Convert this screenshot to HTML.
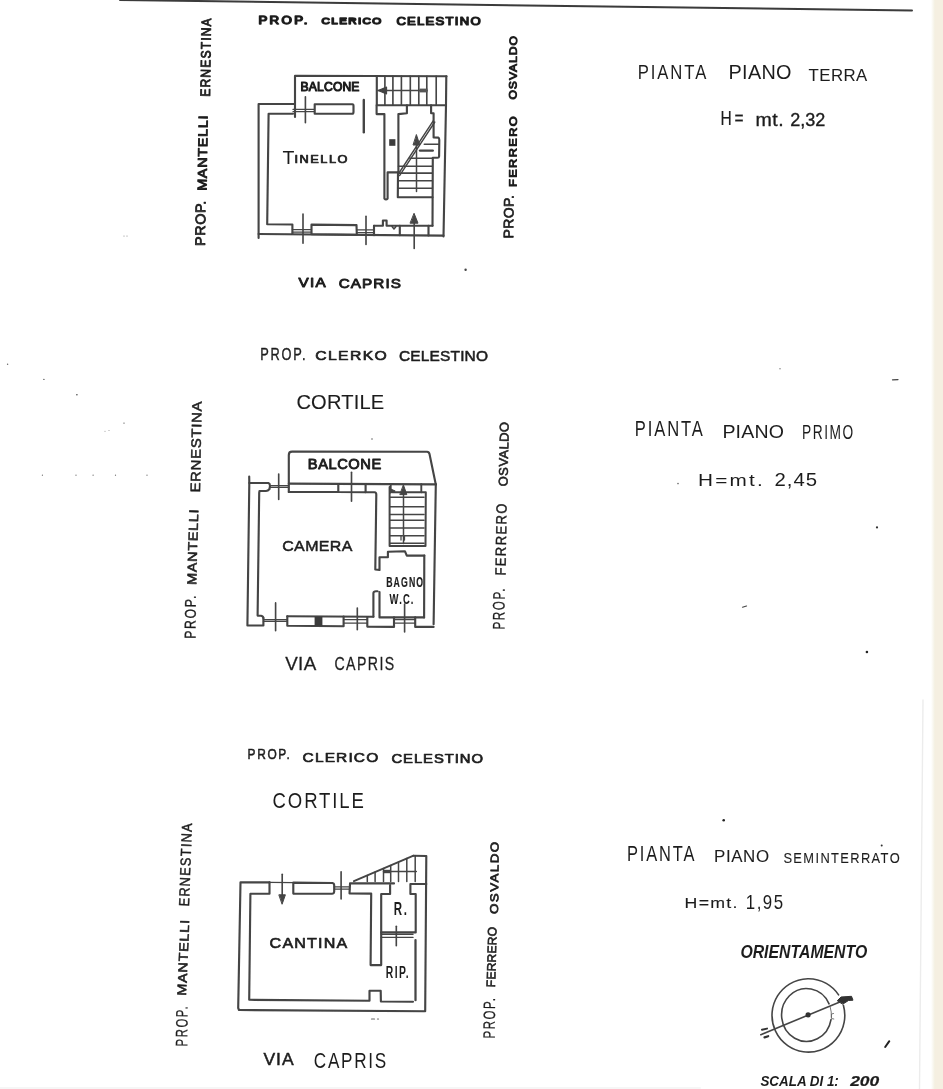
<!DOCTYPE html>
<html><head><meta charset="utf-8"><style>
html,body{margin:0;padding:0;background:#fff;}
body{width:943px;height:1089px;overflow:hidden;position:relative;font-family:"Liberation Sans",sans-serif;}
svg{position:absolute;left:0;top:0;}
.tx{filter:grayscale(1);}
</style></head><body>
<svg width="943" height="1089" viewBox="0 0 943 1089">
<defs><filter id="soft" x="-2%" y="-2%" width="104%" height="104%"><feGaussianBlur stdDeviation="0.45"/></filter><linearGradient id="edge" x1="0" x2="1" y1="0" y2="0"><stop offset="0" stop-color="#ffffff"/><stop offset="1" stop-color="#f3efe0"/></linearGradient></defs>
<rect x="0" y="0" width="943" height="1089" fill="#ffffff"/>
<rect x="931" y="0" width="4" height="1089" fill="url(#edge)"/>
<rect x="935" y="0" width="8" height="1089" fill="#f5efe1"/>
<g filter="url(#soft)">
<path d="M 120 0 L 912 10.5" stroke="#3a3a3a" stroke-width="2.0" fill="none" stroke-linecap="round" stroke-linejoin="round"/>
<path d="M 258.6 238 L 258.6 104 L 295 104" stroke="#444444" stroke-width="2.125" fill="none" stroke-linecap="round" stroke-linejoin="round"/>
<path d="M 295 117 L 295 75.8 L 446.5 76.2" stroke="#444444" stroke-width="2.125" fill="none" stroke-linecap="round" stroke-linejoin="round"/>
<path d="M 446.3 76.2 L 446 105 L 443.5 236.5" stroke="#444444" stroke-width="2.125" fill="none" stroke-linecap="round" stroke-linejoin="round"/>
<path d="M 258.6 234 L 443.5 235.6" stroke="#444444" stroke-width="2.125" fill="none" stroke-linecap="round" stroke-linejoin="round"/>
<path d="M 293 113.8 L 268.6 113.8 L 267.2 224.3 L 292.4 224.5 L 292.4 234" stroke="#444444" stroke-width="2.125" fill="none" stroke-linecap="round" stroke-linejoin="round"/>
<path d="M 293 109.4 L 314 109.4 M 293 111.7 L 314 111.7" stroke="#444444" stroke-width="1.25" fill="none" stroke-linecap="round" stroke-linejoin="round"/>
<path d="M 305.4 96.8 L 305.4 122.8" stroke="#444444" stroke-width="1.625" fill="none" stroke-linecap="round" stroke-linejoin="round"/>
<path d="M 314.7 104.3 L 352.5 104.3 Q 353.5 104.3 353.5 106 L 353.5 112 Q 353.5 113.8 352 113.8 L 314.7 113.8 Z" stroke="#444444" stroke-width="2.125" fill="none" stroke-linecap="round" stroke-linejoin="round"/>
<path d="M 363.8 100 L 363.8 132.3" stroke="#444444" stroke-width="2.375" fill="none" stroke-linecap="round" stroke-linejoin="round"/>
<path d="M 376.8 76 L 376.8 105.2 L 446 105.2" stroke="#444444" stroke-width="2.125" fill="none" stroke-linecap="round" stroke-linejoin="round"/>
<path d="M 384.9 76.2 L 384.9 105" stroke="#444444" stroke-width="1.625" fill="none" stroke-linecap="round" stroke-linejoin="round"/>
<path d="M 392.9 76.2 L 392.9 105" stroke="#444444" stroke-width="1.625" fill="none" stroke-linecap="round" stroke-linejoin="round"/>
<path d="M 401.4 76.2 L 401.4 105" stroke="#444444" stroke-width="1.625" fill="none" stroke-linecap="round" stroke-linejoin="round"/>
<path d="M 410.3 76.2 L 410.3 105" stroke="#444444" stroke-width="1.625" fill="none" stroke-linecap="round" stroke-linejoin="round"/>
<path d="M 418.8 76.2 L 418.8 105" stroke="#444444" stroke-width="1.625" fill="none" stroke-linecap="round" stroke-linejoin="round"/>
<path d="M 426.8 76.2 L 426.8 105" stroke="#444444" stroke-width="1.625" fill="none" stroke-linecap="round" stroke-linejoin="round"/>
<path d="M 436.2 76.2 L 436.2 105" stroke="#444444" stroke-width="1.625" fill="none" stroke-linecap="round" stroke-linejoin="round"/>
<path d="M 378 90.5 L 427 90.5" stroke="#444444" stroke-width="1.625" fill="none" stroke-linecap="round" stroke-linejoin="round"/>
<path d="M 378.2 90.5 L 386.5 87.2 L 386.5 93.8 Z" stroke="#444444" stroke-width="1.25" fill="#444444" stroke-linecap="round" stroke-linejoin="round"/>
<rect x="419.5" y="88.6" width="8" height="3.8" fill="#555"/>
<path d="M 376.6 105.2 L 376.6 114.1 L 384.4 114.1 L 384.4 198.5 Q 386 200.5 387.6 198.5 L 387.6 172.4 L 398.4 172.4 L 398.4 114.1 L 406.9 113.2 L 406.9 105.2" stroke="#444444" stroke-width="2.125" fill="none" stroke-linecap="round" stroke-linejoin="round"/>
<rect x="389.2" y="139.2" width="6.2" height="6.6" fill="#3a3a3a"/>
<path d="M 398.0 172.4 L 397.8 197.3 L 432.5 197.3" stroke="#444444" stroke-width="2.125" fill="none" stroke-linecap="round" stroke-linejoin="round"/>
<path d="M 398.5 166.3 L 432.2 166.3" stroke="#444444" stroke-width="1.625" fill="none" stroke-linecap="round" stroke-linejoin="round"/>
<path d="M 398.5 173.1 L 432.2 173.1" stroke="#444444" stroke-width="1.625" fill="none" stroke-linecap="round" stroke-linejoin="round"/>
<path d="M 398.5 180.8 L 432.2 180.8" stroke="#444444" stroke-width="1.625" fill="none" stroke-linecap="round" stroke-linejoin="round"/>
<path d="M 398.5 188.2 L 432.2 188.2" stroke="#444444" stroke-width="1.625" fill="none" stroke-linecap="round" stroke-linejoin="round"/>
<path d="M 409.9 158.2 L 432.2 158.2" stroke="#444444" stroke-width="1.625" fill="none" stroke-linecap="round" stroke-linejoin="round"/>
<path d="M 424.3 144.2 L 438.5 144.2" stroke="#444444" stroke-width="1.625" fill="none" stroke-linecap="round" stroke-linejoin="round"/>
<path d="M 420 150.6 L 432.8 150.6" stroke="#444444" stroke-width="2.375" fill="none" stroke-linecap="round" stroke-linejoin="round"/>
<path d="M 433.2 120.8 L 398 174.5 M 434.8 122.0 L 399.6 175.6" stroke="#444444" stroke-width="1.375" fill="none" stroke-linecap="round" stroke-linejoin="round"/>
<path d="M 416.5 140 L 416.5 191.5" stroke="#444444" stroke-width="1.5" fill="none" stroke-linecap="round" stroke-linejoin="round"/>
<path d="M 416.5 134.9 L 419.8 145 L 413.4 145 Z" stroke="#444444" stroke-width="1.0" fill="#444444" stroke-linecap="round" stroke-linejoin="round"/>
<path d="M 431.1 105.2 L 431.1 113.2 L 433.6 113.2 L 433.6 137.4 L 438.2 137.6 Q 439.3 138 439.3 140 L 439.1 156.5 Q 439 157.8 437.5 157.8 L 432.8 157.8 L 432.5 225.8" stroke="#444444" stroke-width="2.125" fill="none" stroke-linecap="round" stroke-linejoin="round"/>
<path d="M 311.5 224.6 L 356.5 225.1 L 356.8 234.7 L 311.5 234.3 Z" stroke="#444444" stroke-width="2.125" fill="none" stroke-linecap="round" stroke-linejoin="round"/>
<path d="M 292.4 229.5 L 311.5 229.5 M 292.4 232.2 L 311.5 232.2" stroke="#444444" stroke-width="1.25" fill="none" stroke-linecap="round" stroke-linejoin="round"/>
<path d="M 303 214 L 303 243.3" stroke="#444444" stroke-width="1.625" fill="none" stroke-linecap="round" stroke-linejoin="round"/>
<path d="M 356.8 229.8 L 374 229.8 M 356.8 232.5 L 374 232.5" stroke="#444444" stroke-width="1.25" fill="none" stroke-linecap="round" stroke-linejoin="round"/>
<path d="M 366 216.3 L 366 244.4" stroke="#444444" stroke-width="1.625" fill="none" stroke-linecap="round" stroke-linejoin="round"/>
<path d="M 374 225.8 L 382.9 225.8 L 382.9 220.5 L 386.6 220.5 L 386.6 225.8 L 432.5 225.8" stroke="#444444" stroke-width="2.125" fill="none" stroke-linecap="round" stroke-linejoin="round"/>
<path d="M 374 225.8 L 374 235.3 M 399.8 225.8 L 399.8 235.3 M 428.5 225.8 L 428.5 235.4" stroke="#444444" stroke-width="2.125" fill="none" stroke-linecap="round" stroke-linejoin="round"/>
<path d="M 392 226.5 L 394 229 L 396 226.5" stroke="#444444" stroke-width="1.5" fill="none" stroke-linecap="round" stroke-linejoin="round"/>
<path d="M 414.2 221 L 414.2 248.5" stroke="#444444" stroke-width="1.625" fill="none" stroke-linecap="round" stroke-linejoin="round"/>
<path d="M 414.2 213.6 L 418.0 223.2 L 410.4 223.2 Z" stroke="#444444" stroke-width="1.0" fill="#444444" stroke-linecap="round" stroke-linejoin="round"/>
<path d="M 288.8 492 L 288.8 455 Q 288.8 451.6 292 451.6 L 427 451.7 Q 429 451.8 429.5 454 L 435.8 484.5" stroke="#444444" stroke-width="2.125" fill="none" stroke-linecap="round" stroke-linejoin="round"/>
<path d="M 288.8 483.6 L 435.8 484.4" stroke="#444444" stroke-width="2.125" fill="none" stroke-linecap="round" stroke-linejoin="round"/>
<path d="M 249.2 476.5 L 249.3 483 L 247.4 625.5 L 263.4 625.5 L 263.4 618" stroke="#444444" stroke-width="2.125" fill="none" stroke-linecap="round" stroke-linejoin="round"/>
<path d="M 249.3 483 L 268.4 483 Q 270 483.5 270 486 L 269.5 489 Q 268 491 266 491 L 259.5 491 L 259.2 493 L 257.6 615.6 L 261 615.8 Q 263.4 616.5 263.4 618" stroke="#444444" stroke-width="2.125" fill="none" stroke-linecap="round" stroke-linejoin="round"/>
<path d="M 270 485.6 L 288.8 485.6 M 270 487.4 L 288.8 487.4" stroke="#444444" stroke-width="1.25" fill="none" stroke-linecap="round" stroke-linejoin="round"/>
<path d="M 278.7 474 L 278.7 499.4" stroke="#444444" stroke-width="1.625" fill="none" stroke-linecap="round" stroke-linejoin="round"/>
<path d="M 288.8 492 L 338.3 492 L 338.3 484 M 338.3 492 L 365.6 492.2 L 365.6 484.2" stroke="#444444" stroke-width="2.125" fill="none" stroke-linecap="round" stroke-linejoin="round"/>
<path d="M 351.5 472.3 L 351.5 501.2" stroke="#444444" stroke-width="1.625" fill="none" stroke-linecap="round" stroke-linejoin="round"/>
<path d="M 365.6 492.3 L 374.5 492.3 Q 376.3 492.5 376.3 494.5 L 375.3 569.5 L 379.5 570 L 379.5 557.3 L 387.9 557.3 L 387.9 551.7 L 405 551.3 L 406.8 555.6 L 424.3 555.6" stroke="#444444" stroke-width="2.125" fill="none" stroke-linecap="round" stroke-linejoin="round"/>
<path d="M 390.7 484.2 L 390.7 492.3 M 421.3 484.3 L 421.3 492.3" stroke="#444444" stroke-width="1.875" fill="none" stroke-linecap="round" stroke-linejoin="round"/>
<path d="M 392.5 492.3 L 425.8 492.3 L 425.5 546.1" stroke="#444444" stroke-width="2.0" fill="none" stroke-linecap="round" stroke-linejoin="round"/>
<path d="M 389.6 487 L 389.6 546.1 L 424.5 546.1" stroke="#444444" stroke-width="2.0" fill="none" stroke-linecap="round" stroke-linejoin="round"/>
<path d="M 390 497.3 L 424 497.3" stroke="#444444" stroke-width="1.5" fill="none" stroke-linecap="round" stroke-linejoin="round"/>
<path d="M 390 506.8 L 424 506.8" stroke="#444444" stroke-width="1.5" fill="none" stroke-linecap="round" stroke-linejoin="round"/>
<path d="M 390 514.6 L 424 514.6" stroke="#444444" stroke-width="1.5" fill="none" stroke-linecap="round" stroke-linejoin="round"/>
<path d="M 390 520.2 L 424 520.2" stroke="#444444" stroke-width="1.5" fill="none" stroke-linecap="round" stroke-linejoin="round"/>
<path d="M 390 528 L 424 528" stroke="#444444" stroke-width="1.5" fill="none" stroke-linecap="round" stroke-linejoin="round"/>
<path d="M 390 535.8 L 424 535.8" stroke="#444444" stroke-width="1.5" fill="none" stroke-linecap="round" stroke-linejoin="round"/>
<path d="M 390 543.2 L 424 543.2" stroke="#444444" stroke-width="1.5" fill="none" stroke-linecap="round" stroke-linejoin="round"/>
<path d="M 403.5 492 L 403.5 543.5" stroke="#444444" stroke-width="1.5" fill="none" stroke-linecap="round" stroke-linejoin="round"/>
<path d="M 403.5 485.1 L 406.8 494.6 L 400.2 494.6 Z" stroke="#444444" stroke-width="1.0" fill="#444444" stroke-linecap="round" stroke-linejoin="round"/>
<path d="M 390.8 489 L 395.2 491 L 390.8 493 Z" stroke="#444444" stroke-width="1.0" fill="#444444" stroke-linecap="round" stroke-linejoin="round"/>
<path d="M 401 536 L 401 540 M 404.5 536 L 404.5 540" stroke="#444444" stroke-width="1.25" fill="none" stroke-linecap="round" stroke-linejoin="round"/>
<path d="M 435.8 484.4 L 433.6 624.2" stroke="#444444" stroke-width="2.125" fill="none" stroke-linecap="round" stroke-linejoin="round"/>
<path d="M 424.3 555.6 L 424.1 617.4" stroke="#444444" stroke-width="2.125" fill="none" stroke-linecap="round" stroke-linejoin="round"/>
<path d="M 373.4 616.8 L 373.4 593 Q 373.6 591.2 376 591.2 L 377.5 591.2 M 379.5 592 L 379.5 617.4 L 424.1 617.4" stroke="#444444" stroke-width="2.125" fill="none" stroke-linecap="round" stroke-linejoin="round"/>
<path d="M 287.3 616.3 L 373.4 616.8" stroke="#444444" stroke-width="2.125" fill="none" stroke-linecap="round" stroke-linejoin="round"/>
<path d="M 287.3 616.3 L 287.3 625.7 L 343.6 626.2 L 343.6 616.6" stroke="#444444" stroke-width="2.125" fill="none" stroke-linecap="round" stroke-linejoin="round"/>
<rect x="314.6" y="616.6" width="7.8" height="9.2" fill="#3a3a3a"/>
<path d="M 263.4 619.6 L 287.3 619.6 M 263.4 621.3 L 287.3 621.3" stroke="#444444" stroke-width="1.25" fill="none" stroke-linecap="round" stroke-linejoin="round"/>
<path d="M 275.6 602.9 L 275.6 630.8" stroke="#444444" stroke-width="1.625" fill="none" stroke-linecap="round" stroke-linejoin="round"/>
<path d="M 343.6 619.6 L 367.3 619.6 M 343.6 623 L 367.3 623" stroke="#444444" stroke-width="1.25" fill="none" stroke-linecap="round" stroke-linejoin="round"/>
<path d="M 357.3 608 L 357.3 629.7" stroke="#444444" stroke-width="1.625" fill="none" stroke-linecap="round" stroke-linejoin="round"/>
<path d="M 367.3 617 L 367.3 626.6 L 394 626.9 L 394 617.4" stroke="#444444" stroke-width="2.125" fill="none" stroke-linecap="round" stroke-linejoin="round"/>
<path d="M 394 619.6 L 415.2 619.6 M 394 623 L 415.2 623" stroke="#444444" stroke-width="1.25" fill="none" stroke-linecap="round" stroke-linejoin="round"/>
<path d="M 404.6 604 L 404.6 631.9" stroke="#444444" stroke-width="1.625" fill="none" stroke-linecap="round" stroke-linejoin="round"/>
<path d="M 415.2 617.4 L 415.2 626.9 L 433.6 626.9" stroke="#444444" stroke-width="2.125" fill="none" stroke-linecap="round" stroke-linejoin="round"/>
<path d="M 269.5 882.4 L 240.5 882.3 L 238.2 1008 L 239 1010 L 425.2 1011.3 L 426.3 856 L 413.5 855.7" stroke="#444444" stroke-width="2.125" fill="none" stroke-linecap="round" stroke-linejoin="round"/>
<path d="M 269.5 882.4 L 269.5 893.8 L 250.4 893.8 L 249.2 999.8 L 369.5 1000.7 L 369.5 990.7 L 380.7 990.7 L 380.9 1001.5 L 413 1001.8" stroke="#444444" stroke-width="2.125" fill="none" stroke-linecap="round" stroke-linejoin="round"/>
<path d="M 269.5 882.4 L 293.3 882.6" stroke="#444444" stroke-width="1.25" fill="none" stroke-linecap="round" stroke-linejoin="round"/>
<path d="M 282.2 874.2 L 282.2 897" stroke="#444444" stroke-width="1.625" fill="none" stroke-linecap="round" stroke-linejoin="round"/>
<path d="M 282.2 903.9 L 285.4 894.8 L 279.2 894.8 Z" stroke="#444444" stroke-width="1.0" fill="#444444" stroke-linecap="round" stroke-linejoin="round"/>
<path d="M 293.3 882.6 L 332.5 883 Q 334.2 883.3 334.2 885.5 L 334.2 891.5 Q 334 893.8 332 893.8 L 293.3 893.6 Z" stroke="#444444" stroke-width="2.125" fill="none" stroke-linecap="round" stroke-linejoin="round"/>
<path d="M 334.2 886.8 L 350 886.8 M 334.2 889 L 350 889" stroke="#444444" stroke-width="1.25" fill="none" stroke-linecap="round" stroke-linejoin="round"/>
<path d="M 341.1 871.7 L 341.1 899" stroke="#444444" stroke-width="1.625" fill="none" stroke-linecap="round" stroke-linejoin="round"/>
<path d="M 350 883.4 L 394 883.4" stroke="#444444" stroke-width="2.125" fill="none" stroke-linecap="round" stroke-linejoin="round"/>
<path d="M 350 884 L 349.5 893.4 L 371.2 893.6 L 370.6 965.1 L 381.2 965.1 L 381.2 894 L 390.1 894 L 390.1 885" stroke="#444444" stroke-width="2.125" fill="none" stroke-linecap="round" stroke-linejoin="round"/>
<path d="M 426.3 884 L 410.4 884 L 410.4 894 L 415.7 894 L 415.7 932.4 L 381.2 932.4" stroke="#444444" stroke-width="2.125" fill="none" stroke-linecap="round" stroke-linejoin="round"/>
<path d="M 381.2 934.2 L 413 934.2 M 381.2 937.4 L 413 937.4" stroke="#444444" stroke-width="1.375" fill="none" stroke-linecap="round" stroke-linejoin="round"/>
<path d="M 396.3 926.3 L 396.3 945.8" stroke="#444444" stroke-width="1.625" fill="none" stroke-linecap="round" stroke-linejoin="round"/>
<path d="M 415.5 940 L 415.5 1000.2" stroke="#444444" stroke-width="2.25" fill="none" stroke-linecap="round" stroke-linejoin="round"/>
<path d="M 353.9 881.2 L 413.5 855.7" stroke="#444444" stroke-width="1.875" fill="none" stroke-linecap="round" stroke-linejoin="round"/>
<path d="M 367.3 875.5 L 367.3 881.5" stroke="#444444" stroke-width="1.5" fill="none" stroke-linecap="round" stroke-linejoin="round"/>
<path d="M 375.1 872.1 L 375.1 881.5" stroke="#444444" stroke-width="1.5" fill="none" stroke-linecap="round" stroke-linejoin="round"/>
<path d="M 383.5 868.5 L 383.5 881.5" stroke="#444444" stroke-width="1.5" fill="none" stroke-linecap="round" stroke-linejoin="round"/>
<path d="M 390.7 865.5 L 390.7 881.5" stroke="#444444" stroke-width="1.5" fill="none" stroke-linecap="round" stroke-linejoin="round"/>
<path d="M 398.5 862.1 L 398.5 881.5" stroke="#444444" stroke-width="1.5" fill="none" stroke-linecap="round" stroke-linejoin="round"/>
<path d="M 406.8 858.6 L 406.8 881.5" stroke="#444444" stroke-width="1.5" fill="none" stroke-linecap="round" stroke-linejoin="round"/>
<path d="M 415.2 856.0 L 415.2 881.5" stroke="#444444" stroke-width="1.5" fill="none" stroke-linecap="round" stroke-linejoin="round"/>
<path d="M 383.5 871.5 L 416.3 871.5" stroke="#444444" stroke-width="1.5" fill="none" stroke-linecap="round" stroke-linejoin="round"/>
<rect x="384" y="869.8" width="6.5" height="3.4" fill="#444"/>
<path d="M 371.5 1019 L 374.5 1019 M 377.5 1019 L 378.5 1019" stroke="#666" stroke-width="1.2" fill="none" stroke-linecap="round" stroke-linejoin="round"/>
<path d="M 843.39 1005.28 A 36.4 36.7 0 1 1 838.58 994.88" stroke="#454545" stroke-width="1.6" fill="none" stroke-linecap="round" stroke-linejoin="round"/>
<path d="M 831.02 1019.58 A 24.9 26.4 0 1 1 829.07 1003.84" stroke="#454545" stroke-width="1.6" fill="none" stroke-linecap="round" stroke-linejoin="round"/>
<path d="M 830.18 1006.84 A 24.9 26.4 0 0 1 831.31 1017.30" stroke="#777" stroke-width="1.0" fill="none" stroke-linecap="round" stroke-linejoin="round"/>
<path d="M 760.8 1034.7 L 849.5 998" stroke="#454545" stroke-width="1.6" fill="none" stroke-linecap="round" stroke-linejoin="round"/>
<circle cx="808.1" cy="1014.9" r="2.6" fill="#333"/>
<path d="M 837.5 1000.5 L 841 997 L 851.5 996.3 L 853 1000.2 L 848.5 1000.5 L 843 1004 Z" stroke="#333" stroke-width="1.0" fill="#333" stroke-linecap="round" stroke-linejoin="round"/>
<path d="M 762 1029.8 L 767 1028.6" stroke="#333" stroke-width="2.0" fill="none" stroke-linecap="round" stroke-linejoin="round"/>
<path d="M 764.5 1037.4 L 768.2 1036.2" stroke="#333" stroke-width="2.2" fill="none" stroke-linecap="round" stroke-linejoin="round"/>
<path d="M 833.5 1013.5 L 831.5 1014 L 831.5 1018.5 L 833.8 1019" stroke="#666" stroke-width="0.9" fill="none" stroke-linecap="round" stroke-linejoin="round"/>
<path d="M 885.2 1047 L 889.3 1041.2" stroke="#222" stroke-width="2.0" fill="none" stroke-linecap="round" stroke-linejoin="round"/>
<circle cx="465.6" cy="269.8" r="1.2" fill="#444"/>
<circle cx="877" cy="527.4" r="1.1" fill="#333"/>
<circle cx="866.9" cy="652" r="1.3" fill="#222"/>
<circle cx="723.7" cy="820.3" r="1.3" fill="#222"/>
<circle cx="678" cy="483.6" r="0.8" fill="#666"/>
<circle cx="780" cy="368.8" r="0.7" fill="#777"/>
<circle cx="372" cy="439" r="0.8" fill="#666"/>
<circle cx="7.6" cy="364.2" r="0.7" fill="#666"/>
<circle cx="43.9" cy="379.4" r="0.7" fill="#555"/>
<circle cx="76.9" cy="394.7" r="0.8" fill="#444"/>
<circle cx="124" cy="423.1" r="0.7" fill="#555"/>
<circle cx="105" cy="431.3" r="0.5" fill="#888"/>
<circle cx="109" cy="430.5" r="0.5" fill="#888"/>
<circle cx="42.4" cy="475.2" r="0.6" fill="#666"/>
<circle cx="76" cy="475.2" r="0.6" fill="#666"/>
<circle cx="93.1" cy="475.2" r="0.6" fill="#666"/>
<circle cx="115.5" cy="475.2" r="0.6" fill="#666"/>
<circle cx="147" cy="475.2" r="0.6" fill="#666"/>
<circle cx="124" cy="236" r="0.6" fill="#888"/>
<circle cx="127" cy="236" r="0.6" fill="#888"/>
<circle cx="881.7" cy="845.4" r="1.0" fill="#333"/>
<path d="M 892.5 379.8 L 898 379.6" stroke="#444" stroke-width="1.2" fill="none" stroke-linecap="round" stroke-linejoin="round"/>
<path d="M 742.5 607.2 L 746.5 606" stroke="#444" stroke-width="1.2" fill="none" stroke-linecap="round" stroke-linejoin="round"/>
<path d="M 923 700 L 919.5 1089" stroke="#ececec" stroke-width="1.4" fill="none" stroke-linecap="round" stroke-linejoin="round"/>
<path d="M 0 1088 L 700 1088" stroke="#f6f6f6" stroke-width="2" fill="none" stroke-linecap="round" stroke-linejoin="round"/>
<g class="tx">
<text transform="translate(258.40,23.60) scale(1.2897,1)" x="0" y="0" font-family="Liberation Sans" font-size="10.31" font-weight="normal" stroke="#1e1e1e" stroke-width="1.27" stroke-linejoin="round" fill="#1e1e1e" textLength="38.02" lengthAdjust="spacing">PROP.</text>
<text transform="translate(321.60,23.60) scale(1.2590,1)" x="0" y="0" font-family="Liberation Sans" font-size="9.14" font-weight="normal" stroke="#1e1e1e" stroke-width="1.38" stroke-linejoin="round" fill="#1e1e1e" textLength="47.38" lengthAdjust="spacing">CLERICO</text>
<text transform="translate(396.40,25.40) scale(1.2107,1)" x="0" y="0" font-family="Liberation Sans" font-size="10.80" font-weight="normal" stroke="#1e1e1e" stroke-width="1.23" stroke-linejoin="round" fill="#1e1e1e" textLength="69.56" lengthAdjust="spacing">CELESTINO</text>
<text transform="translate(300.60,91.20) scale(1.0230,1)" x="0" y="0" font-family="Liberation Sans" font-size="11.86" font-weight="normal" stroke="#1e1e1e" stroke-width="1.03" stroke-linejoin="round" fill="#1e1e1e" textLength="57.54" lengthAdjust="spacing">BALCONE</text>
<text transform="translate(282.40,164.00) scale(1.0147,1)" x="0" y="0" font-family="Liberation Sans" font-size="19.24" font-weight="normal" fill="#1e1e1e" textLength="11.86" lengthAdjust="spacing">T</text>
<text transform="translate(294.40,162.60) scale(1.2582,1)" x="0" y="0" font-family="Liberation Sans" font-size="10.17" font-weight="normal" stroke="#1e1e1e" stroke-width="0.68" stroke-linejoin="round" fill="#1e1e1e" textLength="42.16" lengthAdjust="spacing">INELLO</text>
<text transform="translate(298.40,287.00) scale(1.1752,1)" x="0" y="0" font-family="Liberation Sans" font-size="12.95" font-weight="normal" stroke="#1e1e1e" stroke-width="0.93" stroke-linejoin="round" fill="#1e1e1e" textLength="23.25" lengthAdjust="spacing">VIA</text>
<text transform="translate(338.80,288.40) scale(1.1385,1)" x="0" y="0" font-family="Liberation Sans" font-size="13.43" font-weight="normal" stroke="#1e1e1e" stroke-width="0.89" stroke-linejoin="round" fill="#1e1e1e" textLength="54.54" lengthAdjust="spacing">CAPRIS</text>
<text transform="translate(637.80,79.00) scale(0.8140,1)" x="0" y="0" font-family="Liberation Sans" font-size="20.49" font-weight="normal" fill="#1e1e1e" textLength="84.12" lengthAdjust="spacing">PIANTA</text>
<text transform="translate(728.60,78.80) scale(1.0274,1)" x="0" y="0" font-family="Liberation Sans" font-size="19.33" font-weight="normal" fill="#1e1e1e" textLength="61.24" lengthAdjust="spacing">PIANO</text>
<text transform="translate(808.60,81.00) scale(1.0446,1)" x="0" y="0" font-family="Liberation Sans" font-size="16.10" font-weight="normal" stroke="#1e1e1e" stroke-width="0.05" stroke-linejoin="round" fill="#1e1e1e" textLength="56.18" lengthAdjust="spacing">TERRA</text>
<text transform="translate(720.40,125.00) scale(0.7843,1)" x="0" y="0" font-family="Liberation Sans" font-size="19.86" font-weight="normal" stroke="#1e1e1e" stroke-width="0.21" stroke-linejoin="round" fill="#1e1e1e" textLength="29.47" lengthAdjust="spacing">H=</text>
<text transform="translate(755.40,126.20) scale(1.0648,1)" x="0" y="0" font-family="Liberation Sans" font-size="18.40" font-weight="normal" stroke="#1e1e1e" stroke-width="0.34" stroke-linejoin="round" fill="#1e1e1e" textLength="26.64" lengthAdjust="spacing">mt.</text>
<text transform="translate(790.20,126.30) scale(1.0022,1)" x="0" y="0" font-family="Liberation Sans" font-size="18.00" font-weight="normal" stroke="#1e1e1e" stroke-width="0.38" stroke-linejoin="round" fill="#1e1e1e" textLength="35.08" lengthAdjust="spacing">2,32</text>
<text stroke="#1e1e1e" stroke-width="0.84" stroke-linejoin="round" transform="translate(204.90,246.00) rotate(-89.34) scale(1.0244,1)" x="0" y="0" font-family="Liberation Sans" font-size="13.99" font-weight="normal" fill="#1e1e1e" textLength="44.24" lengthAdjust="spacing">PROP.</text>
<text stroke="#1e1e1e" stroke-width="0.94" stroke-linejoin="round" transform="translate(206.50,190.80) rotate(-89.16) scale(1.1125,1)" x="0" y="0" font-family="Liberation Sans" font-size="12.89" font-weight="normal" fill="#1e1e1e" textLength="67.66" lengthAdjust="spacing">MANTELLI</text>
<text stroke="#1e1e1e" stroke-width="0.86" stroke-linejoin="round" transform="translate(209.90,96.80) rotate(-89.20) scale(0.8778,1)" x="0" y="0" font-family="Liberation Sans" font-size="13.74" font-weight="normal" fill="#1e1e1e" textLength="89.37" lengthAdjust="spacing">ERNESTINA</text>
<text stroke="#1e1e1e" stroke-width="0.7" stroke-linejoin="round" transform="translate(513.30,238.60) rotate(-89.59) scale(1.0063,1)" x="0" y="0" font-family="Liberation Sans" font-size="13.83" font-weight="normal" fill="#1e1e1e" textLength="43.23" lengthAdjust="spacing">PROP.</text>
<text stroke="#1e1e1e" stroke-width="1.0" stroke-linejoin="round" transform="translate(516.40,187.00) rotate(-89.68) scale(1.2100,1)" x="0" y="0" font-family="Liberation Sans" font-size="10.52" font-weight="normal" fill="#1e1e1e" textLength="58.38" lengthAdjust="spacing">FERRERO</text>
<text stroke="#1e1e1e" stroke-width="0.98" stroke-linejoin="round" transform="translate(516.50,99.60) rotate(-89.55) scale(1.1300,1)" x="0" y="0" font-family="Liberation Sans" font-size="10.74" font-weight="normal" fill="#1e1e1e" textLength="56.31" lengthAdjust="spacing">OSVALDO</text>
<text transform="translate(260.20,360.00) scale(0.7675,1)" x="0" y="0" font-family="Liberation Sans" font-size="16.69" font-weight="normal" stroke="#1e1e1e" stroke-width="0.4" stroke-linejoin="round" fill="#1e1e1e" textLength="59.04" lengthAdjust="spacing">PROP.</text>
<text transform="translate(315.20,360.00) scale(1.1614,1)" x="0" y="0" font-family="Liberation Sans" font-size="13.57" font-weight="normal" stroke="#1e1e1e" stroke-width="0.68" stroke-linejoin="round" fill="#1e1e1e" textLength="61.68" lengthAdjust="spacing">CLERKO</text>
<text transform="translate(399.00,361.40) scale(1.0212,1)" x="0" y="0" font-family="Liberation Sans" font-size="15.17" font-weight="normal" stroke="#1e1e1e" stroke-width="0.54" stroke-linejoin="round" fill="#1e1e1e" textLength="87.17" lengthAdjust="spacing">CELESTINO</text>
<text transform="translate(296.40,408.80) scale(1.0125,1)" x="0" y="0" font-family="Liberation Sans" font-size="19.86" font-weight="normal" stroke="#1e1e1e" stroke-width="0.11" stroke-linejoin="round" fill="#1e1e1e" textLength="86.78" lengthAdjust="spacing">CORTILE</text>
<text transform="translate(307.80,469.20) scale(1.0699,1)" x="0" y="0" font-family="Liberation Sans" font-size="13.73" font-weight="normal" stroke="#1e1e1e" stroke-width="0.86" stroke-linejoin="round" fill="#1e1e1e" textLength="68.63" lengthAdjust="spacing">BALCONE</text>
<text transform="translate(282.20,551.00) scale(1.0403,1)" x="0" y="0" font-family="Liberation Sans" font-size="15.37" font-weight="normal" stroke="#1e1e1e" stroke-width="0.52" stroke-linejoin="round" fill="#1e1e1e" textLength="67.52" lengthAdjust="spacing">CAMERA</text>
<text transform="translate(386.20,587.20) scale(0.6323,1)" x="0" y="0" font-family="Liberation Sans" font-size="13.79" font-weight="bold" stroke="#1e1e1e" stroke-width="0.23" stroke-linejoin="round" fill="#1e1e1e" textLength="58.34" lengthAdjust="spacing">BAGNO</text>
<text transform="translate(389.60,604.40) scale(0.6698,1)" x="0" y="0" font-family="Liberation Sans" font-size="14.13" font-weight="bold" stroke="#1e1e1e" stroke-width="0.08" stroke-linejoin="round" fill="#1e1e1e" textLength="35.68" lengthAdjust="spacing">W.C.</text>
<text transform="translate(285.20,669.80) scale(1.0365,1)" x="0" y="0" font-family="Liberation Sans" font-size="18.15" font-weight="normal" stroke="#1e1e1e" stroke-width="0.27" stroke-linejoin="round" fill="#1e1e1e" textLength="29.97" lengthAdjust="spacing">VIA</text>
<text transform="translate(334.40,670.40) scale(0.7793,1)" x="0" y="0" font-family="Liberation Sans" font-size="18.15" font-weight="normal" stroke="#1e1e1e" stroke-width="0.27" stroke-linejoin="round" fill="#1e1e1e" textLength="76.81" lengthAdjust="spacing">CAPRIS</text>
<text transform="translate(634.80,435.60) scale(0.7623,1)" x="0" y="0" font-family="Liberation Sans" font-size="21.75" font-weight="normal" fill="#1e1e1e" textLength="89.28" lengthAdjust="spacing">PIANTA</text>
<text transform="translate(722.40,437.80) scale(1.0167,1)" x="0" y="0" font-family="Liberation Sans" font-size="19.24" font-weight="normal" fill="#1e1e1e" textLength="60.52" lengthAdjust="spacing">PIANO</text>
<text transform="translate(802.00,439.00) scale(0.7025,1)" x="0" y="0" font-family="Liberation Sans" font-size="19.60" font-weight="normal" fill="#1e1e1e" textLength="73.00" lengthAdjust="spacing">PRIMO</text>
<text transform="translate(698.00,485.60) scale(1.2441,1)" x="0" y="0" font-family="Liberation Sans" font-size="16.69" font-weight="normal" fill="#1e1e1e" textLength="52.04" lengthAdjust="spacing">H=mt.</text>
<text transform="translate(774.40,486.10) scale(1.1187,1)" x="0" y="0" font-family="Liberation Sans" font-size="18.20" font-weight="normal" fill="#1e1e1e" textLength="38.17" lengthAdjust="spacing">2,45</text>
<text stroke="#1e1e1e" stroke-width="0.35" stroke-linejoin="round" transform="translate(195.50,638.80) rotate(-89.59) scale(0.7856,1)" x="0" y="0" font-family="Liberation Sans" font-size="15.59" font-weight="normal" fill="#1e1e1e" textLength="55.11" lengthAdjust="spacing">PROP.</text>
<text stroke="#1e1e1e" stroke-width="0.58" stroke-linejoin="round" transform="translate(196.20,585.00) rotate(-88.45) scale(1.1082,1)" x="0" y="0" font-family="Liberation Sans" font-size="13.01" font-weight="normal" fill="#1e1e1e" textLength="68.11" lengthAdjust="spacing">MANTELLI</text>
<text stroke="#1e1e1e" stroke-width="0.52" stroke-linejoin="round" transform="translate(200.00,492.60) rotate(-88.99) scale(1.0959,1)" x="0" y="0" font-family="Liberation Sans" font-size="13.66" font-weight="normal" fill="#1e1e1e" textLength="83.08" lengthAdjust="spacing">ERNESTINA</text>
<text stroke="#1e1e1e" stroke-width="0.24" stroke-linejoin="round" transform="translate(504.40,629.60) rotate(-89.42) scale(0.6931,1)" x="0" y="0" font-family="Liberation Sans" font-size="16.77" font-weight="normal" fill="#1e1e1e" textLength="59.29" lengthAdjust="spacing">PROP.</text>
<text stroke="#1e1e1e" stroke-width="0.42" stroke-linejoin="round" transform="translate(505.60,575.60) rotate(-89.20) scale(0.8782,1)" x="0" y="0" font-family="Liberation Sans" font-size="14.77" font-weight="normal" fill="#1e1e1e" textLength="82.03" lengthAdjust="spacing">FERRERO</text>
<text stroke="#1e1e1e" stroke-width="0.6" stroke-linejoin="round" transform="translate(507.40,486.40) rotate(-88.74) scale(1.0258,1)" x="0" y="0" font-family="Liberation Sans" font-size="12.77" font-weight="normal" fill="#1e1e1e" textLength="62.82" lengthAdjust="spacing">OSVALDO</text>
<text transform="translate(247.60,759.00) scale(0.7803,1)" x="0" y="0" font-family="Liberation Sans" font-size="15.28" font-weight="normal" stroke="#1e1e1e" stroke-width="0.53" stroke-linejoin="round" fill="#1e1e1e" textLength="54.02" lengthAdjust="spacing">PROP.</text>
<text transform="translate(302.60,761.80) scale(1.1451,1)" x="0" y="0" font-family="Liberation Sans" font-size="13.57" font-weight="normal" stroke="#1e1e1e" stroke-width="0.68" stroke-linejoin="round" fill="#1e1e1e" textLength="66.04" lengthAdjust="spacing">CLERICO</text>
<text transform="translate(391.40,762.60) scale(1.1388,1)" x="0" y="0" font-family="Liberation Sans" font-size="13.02" font-weight="normal" stroke="#1e1e1e" stroke-width="0.73" stroke-linejoin="round" fill="#1e1e1e" textLength="80.46" lengthAdjust="spacing">CELESTINO</text>
<text transform="translate(272.60,808.40) scale(0.8686,1)" x="0" y="0" font-family="Liberation Sans" font-size="21.34" font-weight="normal" fill="#1e1e1e" textLength="105.09" lengthAdjust="spacing">CORTILE</text>
<text transform="translate(269.60,948.20) scale(1.1513,1)" x="0" y="0" font-family="Liberation Sans" font-size="13.99" font-weight="normal" stroke="#1e1e1e" stroke-width="0.64" stroke-linejoin="round" fill="#1e1e1e" textLength="67.44" lengthAdjust="spacing">CANTINA</text>
<text transform="translate(393.80,915.20) scale(0.5992,1)" x="0" y="0" font-family="Liberation Sans" font-size="19.24" font-weight="bold" fill="#1e1e1e" textLength="21.86" lengthAdjust="spacing">R.</text>
<text transform="translate(385.80,978.20) scale(0.6500,1)" x="0" y="0" font-family="Liberation Sans" font-size="15.95" font-weight="bold" fill="#1e1e1e" textLength="35.24" lengthAdjust="spacing">RIP.</text>
<text transform="translate(263.40,1064.60) scale(1.1110,1)" x="0" y="0" font-family="Liberation Sans" font-size="15.78" font-weight="normal" stroke="#1e1e1e" stroke-width="0.48" stroke-linejoin="round" fill="#1e1e1e" textLength="27.28" lengthAdjust="spacing">VIA</text>
<text transform="translate(313.80,1068.00) scale(0.8042,1)" x="0" y="0" font-family="Liberation Sans" font-size="21.31" font-weight="normal" fill="#1e1e1e" textLength="90.14" lengthAdjust="spacing">CAPRIS</text>
<text transform="translate(627.00,860.80) scale(0.7592,1)" x="0" y="0" font-family="Liberation Sans" font-size="21.65" font-weight="normal" fill="#1e1e1e" textLength="88.87" lengthAdjust="spacing">PIANTA</text>
<text transform="translate(714.00,862.20) scale(1.0714,1)" x="0" y="0" font-family="Liberation Sans" font-size="15.78" font-weight="normal" stroke="#1e1e1e" stroke-width="0.08" stroke-linejoin="round" fill="#1e1e1e" textLength="51.40" lengthAdjust="spacing">PIANO</text>
<text transform="translate(783.40,863.20) scale(0.8376,1)" x="0" y="0" font-family="Liberation Sans" font-size="15.37" font-weight="normal" stroke="#1e1e1e" stroke-width="0.12" stroke-linejoin="round" fill="#1e1e1e" textLength="138.78" lengthAdjust="spacing">SEMINTERRATO</text>
<text transform="translate(684.60,908.00) scale(1.1564,1)" x="0" y="0" font-family="Liberation Sans" font-size="15.37" font-weight="normal" stroke="#1e1e1e" stroke-width="0.12" stroke-linejoin="round" fill="#1e1e1e" textLength="45.64" lengthAdjust="spacing">H=mt.</text>
<text transform="translate(745.80,909.40) scale(0.8441,1)" x="0" y="0" font-family="Liberation Sans" font-size="20.00" font-weight="normal" fill="#1e1e1e" textLength="44.23" lengthAdjust="spacing">1,95</text>
<text x="740.40" y="957.60" font-family="Liberation Sans" font-size="17.89" font-weight="bold" font-style="italic" fill="#1e1e1e" textLength="126.82" lengthAdjust="spacingAndGlyphs">ORIENTAMENTO</text>
<text x="760.40" y="1085.60" font-family="Liberation Sans" font-size="15.28" font-weight="bold" font-style="italic" fill="#1e1e1e" textLength="78.44" lengthAdjust="spacingAndGlyphs">SCALA DI 1:</text>
<text x="850.20" y="1085.60" font-family="Liberation Sans" font-size="13.83" font-weight="bold" font-style="italic" stroke="#1e1e1e" stroke-width="0.2" stroke-linejoin="round" fill="#1e1e1e" textLength="29.07" lengthAdjust="spacingAndGlyphs">200</text>
<text stroke="#1e1e1e" stroke-width="0.26" stroke-linejoin="round" transform="translate(187.30,1046.40) rotate(-89.56) scale(0.6831,1)" x="0" y="0" font-family="Liberation Sans" font-size="16.53" font-weight="normal" fill="#1e1e1e" textLength="58.47" lengthAdjust="spacing">PROP.</text>
<text stroke="#1e1e1e" stroke-width="0.6" stroke-linejoin="round" transform="translate(186.10,995.80) rotate(-87.59) scale(1.1243,1)" x="0" y="0" font-family="Liberation Sans" font-size="12.74" font-weight="normal" fill="#1e1e1e" textLength="67.35" lengthAdjust="spacing">MANTELLI</text>
<text stroke="#1e1e1e" stroke-width="0.44" stroke-linejoin="round" transform="translate(189.00,906.60) rotate(-87.92) scale(0.8788,1)" x="0" y="0" font-family="Liberation Sans" font-size="14.54" font-weight="normal" fill="#1e1e1e" textLength="94.53" lengthAdjust="spacing">ERNESTINA</text>
<text stroke="#1e1e1e" stroke-width="0.27" stroke-linejoin="round" transform="translate(494.80,1038.40) rotate(-89.70) scale(0.6953,1)" x="0" y="0" font-family="Liberation Sans" font-size="16.43" font-weight="normal" fill="#1e1e1e" textLength="58.09" lengthAdjust="spacing">PROP.</text>
<text stroke="#1e1e1e" stroke-width="0.65" stroke-linejoin="round" transform="translate(495.10,987.40) rotate(-88.57) scale(1.0053,1)" x="0" y="0" font-family="Liberation Sans" font-size="12.25" font-weight="normal" fill="#1e1e1e" textLength="60.12" lengthAdjust="spacing">FERRERO</text>
<text stroke="#1e1e1e" stroke-width="0.72" stroke-linejoin="round" transform="translate(498.10,914.00) rotate(-89.60) scale(1.1764,1)" x="0" y="0" font-family="Liberation Sans" font-size="11.40" font-weight="normal" fill="#1e1e1e" textLength="61.42" lengthAdjust="spacing">OSVALDO</text>
</g>
</g>
</svg>
</body></html>
